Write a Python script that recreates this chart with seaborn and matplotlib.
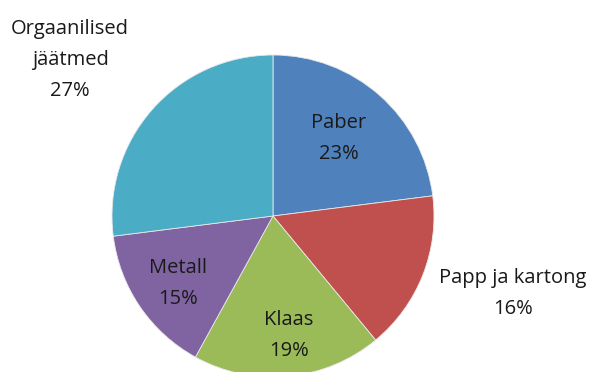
import matplotlib
matplotlib.use("Agg")
import matplotlib.pyplot as plt
import seaborn as sns
import numpy as np

sns.set_theme(style="white")
plt.rcParams['font.family'] = ['Open Sans', 'DejaVu Sans']

categories = ["Paber", "Papp ja kartong", "Klaas", "Metall", "Orgaanilised\njäätmed"]
values = [23, 16, 19, 15, 27]
colors = ["#4F81BD", "#C0504D", "#9BBB59", "#8064A2", "#4BACC6"]
# label anchor positions (data coords, pie radius = 1)
label_pos = [(0.41, 0.48), (1.49, -0.48), (0.10, -0.74), (-0.59, -0.42), (-1.26, 0.97)]

W, H = 604, 372
fig = plt.figure(figsize=(W / 100, H / 100), dpi=100)
cx, cy, r = 273, 216, 161
ax = fig.add_axes([(cx - r) / W, (H - cy - r) / H, 2 * r / W, 2 * r / H])
ax.pie(values, colors=colors, startangle=90, counterclock=False, radius=1,
       wedgeprops=dict(edgecolor="#e8e8e8", linewidth=0.6))
ax.set_xlim(-1, 1)
ax.set_ylim(-1, 1)
ax.set_aspect("equal")
ax.axis("off")

for cat, v, (x, y) in zip(categories, values, label_pos):
    ax.text(x, y, f"{cat}\n{v}%", ha="center", va="center", fontsize=14.5,
            color="#1a1a1a", linespacing=1.75, clip_on=False)

fig.savefig("out.png", dpi=100)
